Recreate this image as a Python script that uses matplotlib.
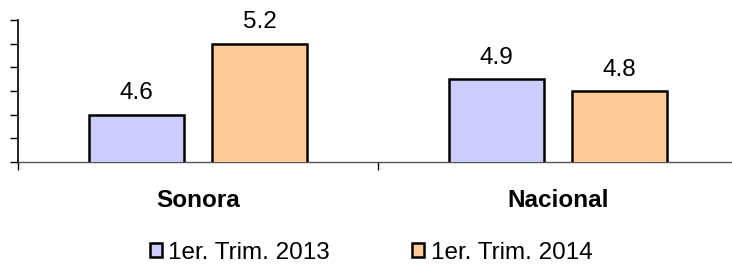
import matplotlib
matplotlib.use("Agg")
import matplotlib.pyplot as plt
from matplotlib.patches import Patch

plt.rcParams['font.family'] = ['Liberation Sans', 'DejaVu Sans']

# data
categories = ['Sonora', 'Nacional']
series_names = ['1er. Trim. 2013', '1er. Trim. 2014']
values_2013 = [4.6, 4.9]
values_2014 = [5.2, 4.8]
colors = ['#CCCCFF', '#FFCC99']

fs = 17.5

fig = plt.figure(figsize=(7.32, 2.65), dpi=100)
ax = fig.add_axes([18 / 732, 103 / 265, 720 / 732, 142 / 265])

x = list(range(len(categories)))
w = 0.264
off = 0.171
b1 = ax.bar([i - off for i in x], values_2013, w, color=colors[0],
            edgecolor='black', linewidth=1.8, zorder=3)
b2 = ax.bar([i + off for i in x], values_2014, w, color=colors[1],
            edgecolor='black', linewidth=1.8, zorder=3)

for bars, vals in ((b1, values_2013), (b2, values_2014)):
    for r, v in zip(bars, vals):
        ax.annotate(f'{v:.1f}', (r.get_x() + r.get_width() / 2, v),
                    xytext=(0, 11), textcoords='offset points',
                    ha='center', va='baseline', fontsize=fs)

ax.set_ylim(4.2, 5.4)
ax.set_xlim(-0.5, 1.5)
ax.set_yticks([4.2, 4.4, 4.6, 4.8, 5.0, 5.2, 5.4])
ax.set_yticklabels([])
ax.tick_params(axis='y', length=6, width=1, direction='out')

# category labels and tick marks between categories
ax.set_xticks([-0.5, 0.5, 1.5])
ax.set_xticklabels([])
ax.tick_params(axis='x', length=6, width=1, direction='out')
for i, c in enumerate(categories):
    ax.text(i, -0.27, c, transform=ax.get_xaxis_transform(), ha='center',
            va='center', fontsize=fs, fontweight='bold')

for s in ['top', 'right']:
    ax.spines[s].set_visible(False)
ax.spines['left'].set_linewidth(1.2)
ax.spines['bottom'].set_linewidth(1.0)
ax.spines['bottom'].set_color('#555555')

handles = [Patch(facecolor=colors[0], edgecolor='black', linewidth=1.8),
           Patch(facecolor=colors[1], edgecolor='black', linewidth=1.8)]
fig.legend(handles, series_names, loc='center',
           bbox_to_anchor=(371 / 732, 12 / 265),
           ncol=2, frameon=False, fontsize=fs, handlelength=0.5,
           handleheight=0.5, handletextpad=0.25, columnspacing=3.4,
           borderpad=0, borderaxespad=0)

fig.savefig('out.png', dpi=100)
